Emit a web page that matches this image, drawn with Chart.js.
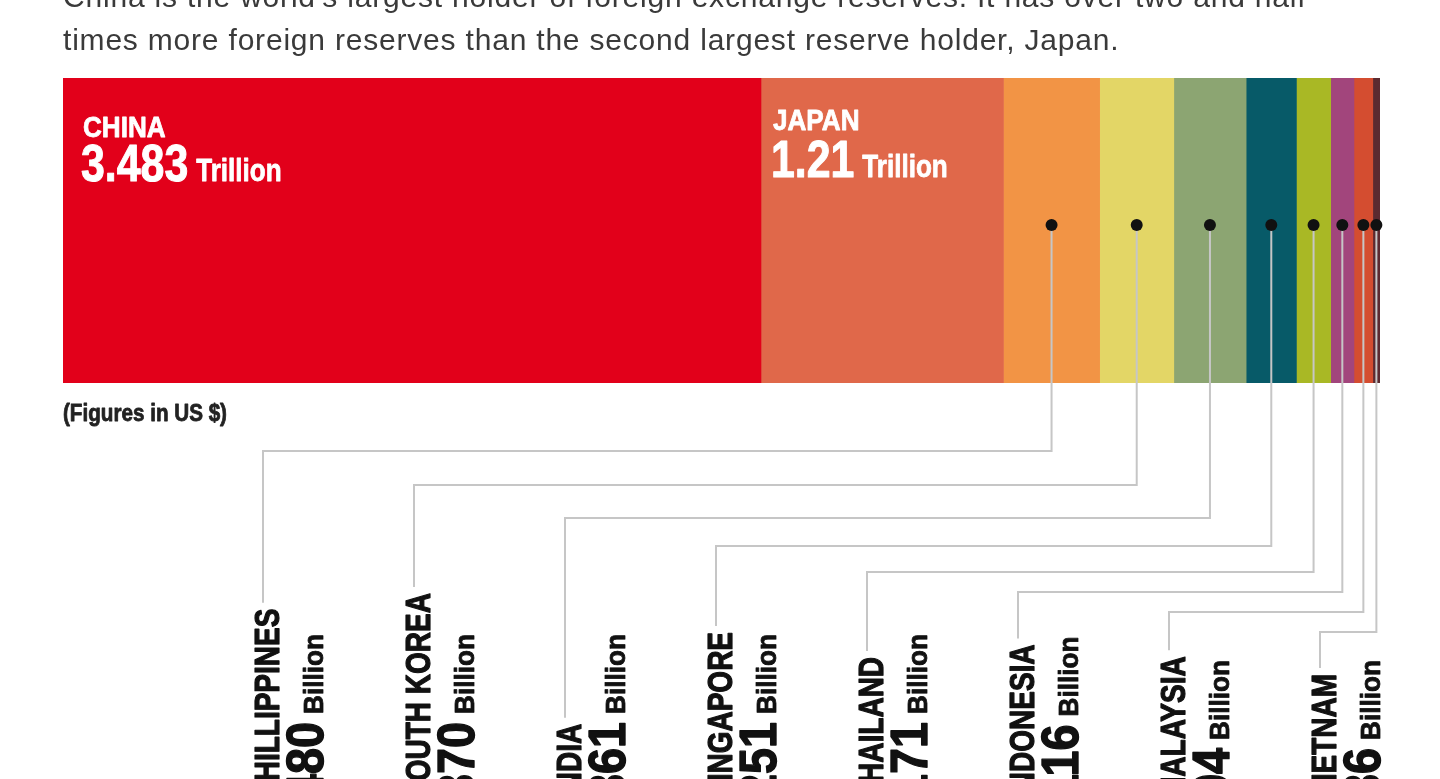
<!DOCTYPE html>
<html>
<head>
<meta charset="utf-8">
<script src="https://cdn.jsdelivr.net/npm/chart.js@4/dist/chart.umd.min.js"></script>
<style>
  html,body{margin:0;padding:0;background:#fff;}
  #wrap{width:1440px;height:779px;position:relative;overflow:hidden;}
  canvas{display:block;}
</style>
</head>
<body>
<div id="wrap"><canvas id="c" width="1440" height="779"></canvas></div>
<script>
// ---- data ----
const countries = ['CHINA','JAPAN','PHILLIPPINES','SOUTH KOREA','INDIA','SINGAPORE','THAILAND','INDONESIA','MALAYSIA','VIETNAM'];
const reserves = [3483, 1210, 480, 370, 361, 251, 171, 116, 94, 36]; // US$ billions
const valueLabels = ['3.483','1.21','480','370','361','251','171','116','94','36'];
const unitLabels = ['Trillion','Trillion','Billion','Billion','Billion','Billion','Billion','Billion','Billion','Billion'];
const colors = ['#e2001a','#e0684a','#f29445','#e3d666','#8ca572','#075a68','#a9b825','#a2457c','#d44d30','#5b2a30'];
const titleLines = [
  "China is the world's largest holder of foreign exchange reserves. It has over two and half",
  "times more foreign reserves than the second largest reserve holder, Japan."
];
const noteText = '(Figures in US $)';

// ---- layout (not data) ----
const connectorLevels = [451, 485, 518, 546, 572, 592, 612, 632];
const labelStartX = 263, labelStepX = 151;
const dotY = 225;
const labelBottomY = 800;

function condText(ctx, text, x, y, font, c, rot, align, color, stroke) {
  ctx.save();
  ctx.translate(x, y);
  if (rot) ctx.rotate(rot);
  ctx.scale(c, 1);
  ctx.font = font;
  ctx.fillStyle = color;
  ctx.textAlign = align || 'left';
  ctx.textBaseline = 'alphabetic';
  ctx.fillText(text, 0, 0);
  if (stroke) {
    ctx.strokeStyle = color;
    ctx.lineWidth = stroke;
    ctx.lineJoin = 'round';
    ctx.strokeText(text, 0, 0);
  }
  ctx.restore();
}
function condWidth(ctx, text, font, c) {
  ctx.save(); ctx.font = font; const w = ctx.measureText(text).width * c; ctx.restore(); return w;
}

const FONT = "'Liberation Sans', Arial, sans-serif";

const overlay = {
  id: 'overlay',
  beforeDraw(chart) {
    const ctx = chart.ctx;
    ctx.save();
    ctx.fillStyle = '#fff';
    ctx.fillRect(0, 0, chart.width, chart.height);
    ctx.restore();
  },
  afterDraw(chart) {
    const ctx = chart.ctx;
    const area = chart.chartArea;
    // title
    ctx.save();
    ctx.font = "30px " + FONT;
    ctx.fillStyle = '#3a3a3a';
    ctx.textBaseline = 'alphabetic';
    try { ctx.letterSpacing = '0.8px'; } catch (e) {}
    ctx.fillText(titleLines[0], area.left, 7);
    ctx.fillText(titleLines[1], area.left, 50);
    ctx.restore();

    // note
    condText(ctx, noteText, area.left, 421, "bold 24px " + FONT, 0.86, 0, 'left', '#222', 0.8);

    const seg = countries.map((_, i) => {
      const el = chart.getDatasetMeta(i).data[0];
      const p = el.getProps(['x', 'base'], true);
      return {start: Math.min(p.x, p.base), end: Math.max(p.x, p.base)};
    });

    // big labels inside the bar
    const big = [
      {i: 0, dx: 20, nameY: 137, valY: 181},
      {i: 1, dx: 12, nameY: 130, valY: 177}
    ];
    big.forEach(b => {
      const x = seg[b.i].start + b.dx;
      condText(ctx, countries[b.i], x, b.nameY, "bold 29px " + FONT, 0.9, 0, 'left', '#fff', 0.8);
      const vf = "bold 51px " + FONT;
      condText(ctx, valueLabels[b.i], x - 2, b.valY, vf, 0.84, 0, 'left', '#fff', 1);
      const vw = condWidth(ctx, valueLabels[b.i], vf, 0.84);
      condText(ctx, unitLabels[b.i], x - 2 + vw + 8, b.valY, "bold 31px " + FONT, 0.84, 0, 'left', '#fff', 0.8);
    });

    // connectors + rotated labels
    const nameFont = "bold 35px " + FONT, nameC = 0.8;
    const numFont = "bold 52px " + FONT, numC = 0.9;
    const unitFont = "bold 27px " + FONT, unitC = 0.97;
    for (let i = 2; i < countries.length; i++) {
      const k = i - 2;
      const cx = (seg[i].start + seg[i].end) / 2;
      const lx = labelStartX + k * labelStepX;
      const ly = connectorLevels[k];
      const nameTop = labelBottomY - condWidth(ctx, countries[i], nameFont, nameC);
      ctx.save();
      ctx.strokeStyle = '#c6c6c6';
      ctx.lineWidth = 2;
      ctx.beginPath();
      ctx.moveTo(cx, dotY);
      ctx.lineTo(cx, ly);
      ctx.lineTo(lx, ly);
      ctx.lineTo(lx, nameTop - 6);
      ctx.stroke();
      ctx.restore();

      // rotated texts
      condText(ctx, countries[i], lx + 16, labelBottomY, nameFont, nameC, -Math.PI / 2, 'left', '#111', 1.2);
      condText(ctx, valueLabels[i], lx + 60, labelBottomY, numFont, numC, -Math.PI / 2, 'left', '#111', 1.4);
      const nw = condWidth(ctx, valueLabels[i], numFont, numC);
      condText(ctx, unitLabels[i], lx + 60, labelBottomY - nw - 8, unitFont, unitC, -Math.PI / 2, 'left', '#111', 0.8);
    }
    // dots
    for (let i = 2; i < countries.length; i++) {
      const cx = (seg[i].start + seg[i].end) / 2;
      ctx.save();
      ctx.fillStyle = '#111';
      ctx.beginPath();
      ctx.arc(cx, dotY, 6, 0, Math.PI * 2);
      ctx.fill();
      ctx.restore();
    }
  }
};

const total = reserves.reduce((a, b) => a + b, 0);

new Chart(document.getElementById('c'), {
  type: 'bar',
  data: {
    labels: [''],
    datasets: countries.map((name, i) => ({
      label: name,
      data: [reserves[i]],
      backgroundColor: colors[i],
      borderWidth: 0,
      barPercentage: 1,
      categoryPercentage: 1
    }))
  },
  options: {
    indexAxis: 'y',
    responsive: false,
    devicePixelRatio: 1,
    animation: false,
    layout: {padding: {left: 63, right: 60, top: 78, bottom: 396}},
    scales: {
      x: {stacked: true, display: false, min: 0, max: total},
      y: {stacked: true, display: false}
    },
    plugins: {legend: {display: false}, tooltip: {enabled: false}, title: {display: false}}
  },
  plugins: [overlay]
});
</script>
</body>
</html>
